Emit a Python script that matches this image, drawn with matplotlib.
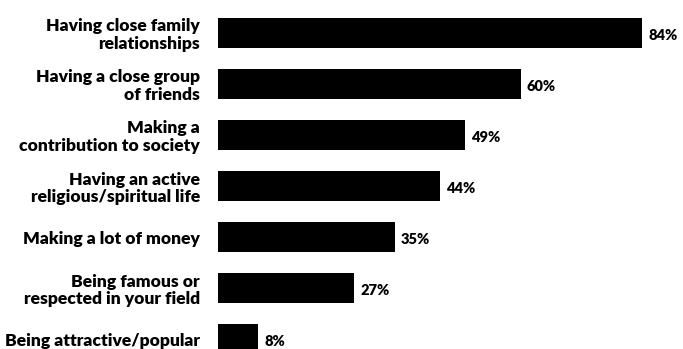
import matplotlib.pyplot as plt

# Survey: what matters most in life
categories = [
    "Having close family\nrelationships",
    "Having a close group\nof friends",
    "Making a\ncontribution to society",
    "Having an active\nreligious/spiritual life",
    "Making a lot of money",
    "Being famous or\nrespected in your field",
    "Being attractive/popular",
]
percents = [84, 60, 49, 44, 35, 27, 8]

plt.rcParams['font.family'] = ['Lato', 'DejaVu Sans']

fig = plt.figure(figsize=(6.83, 3.49), dpi=100)
ax = fig.add_axes([0.319, 0.0, 0.681, 1.0])

pos = list(range(len(categories)))
bars = ax.barh(pos, percents, height=0.57, color="black")

ax.set_xlim(0, 92.1)
ax.set_ylim(6.196, -0.647)

ax.set_yticks(pos)
ax.set_yticklabels(categories, fontsize=12.6, fontweight="heavy",
                   multialignment="right", linespacing=1.15)
ax.tick_params(axis="y", length=0, pad=13)
ax.set_xticks([])

for spine in ax.spines.values():
    spine.set_visible(False)

for bar, val in zip(bars, percents):
    ax.text(bar.get_width() + 1.2, bar.get_y() + bar.get_height() / 2 + 0.05,
            f"{val}%", va="center", ha="left",
            fontsize=10.5, fontweight="heavy")

plt.savefig("out.png", dpi=100)
plt.close()
